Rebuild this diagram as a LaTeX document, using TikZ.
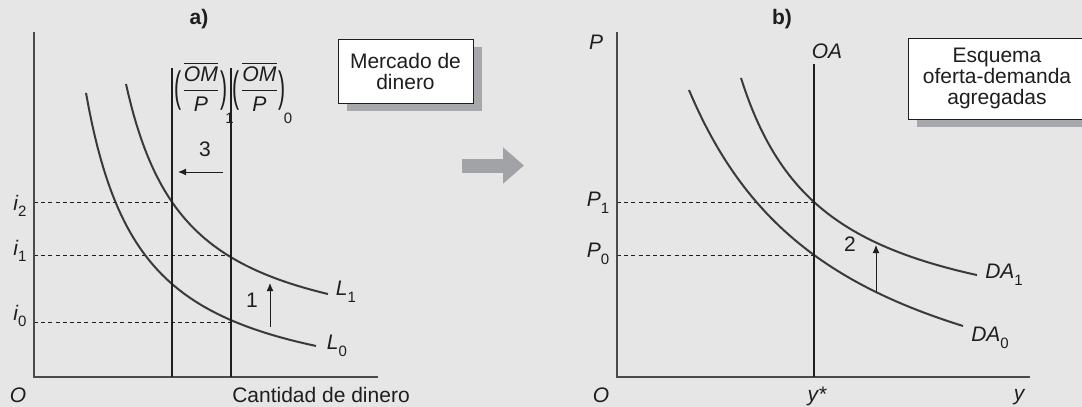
\documentclass[tikz,border=0pt]{standalone}
\usepackage{fontspec}
\setmainfont{Liberation Sans}
\usepackage{graphicx}
\usepackage{tikz}
\usetikzlibrary{arrows.meta, positioning, calc, shadows}
\definecolor{pagebg}{HTML}{E6E6E6}
\definecolor{axiscolor}{HTML}{4A4A4A}
\definecolor{curvecolor}{HTML}{3A3A3A}
\definecolor{inkcolor}{HTML}{1E1E1E}
\definecolor{shadowgray}{HTML}{A7A8AB}
\definecolor{flowgray}{HTML}{A2A3A6}
\newcommand{\lowsub}[1]{\raisebox{-3.3pt}{\upshape\fontsize{7.5}{7.5}\selectfont #1}}
\newcommand{\tallparen}[1]{\vcenter{\hbox{\scalebox{1}[2]{#1}}}}
\newcommand{\realbal}[1]{$\tallparen{(}%
    {\displaystyle\frac{\overline{\mbox{\itshape OM}}}{\mbox{\itshape P}}}%
    \tallparen{)}$\kern-1pt\raisebox{-13.5pt}{\fontsize{7.5}{7.5}\selectfont #1}}

\begin{document}
\begin{tikzpicture}[
    x=0.5pt, y=-0.5pt,
    font=\fontsize{10.5}{10.5}\selectfont,
    axis/.style={draw=axiscolor, line width=0.65pt},
    supply/.style={draw=inkcolor, line width=1.25pt},
    curve/.style={draw=curvecolor, line width=1pt},
    guide/.style={draw=inkcolor, line width=0.45pt, dash pattern=on 2pt off 1.6pt},
    movearrow/.style={draw=inkcolor, line width=0.5pt, -{Latex[length=4pt, width=3.5pt]}},
    lbl/.style={text=inkcolor, inner sep=0pt},
    var/.style={lbl, font=\fontsize{10.5}{10.5}\selectfont\itshape},
    panel/.style={lbl, font=\fontsize{10.5}{10.5}\selectfont\bfseries},
    tag/.style={
        rectangle, draw=inkcolor, line width=0.5pt, fill=white,
        text=inkcolor, align=center, inner sep=0pt,
        drop shadow={shadow xshift=4.5pt, shadow yshift=-4pt,
                     fill=shadowgray, opacity=1},
    },
]

\fill[pagebg] (0,0) rectangle (1082,407);
\useasboundingbox (0,0) rectangle (1082,407);
\clip (0,0) rectangle (1082,407);

% Panel a) -- money market
\coordinate (Oa) at (34,377);
\coordinate (ia) at (34,32);
\coordinate (xa) at (378,377);
\coordinate (m1top) at (172,68);
\coordinate (m0top) at (231,68);
\coordinate (e2) at (172,202);
\coordinate (e1) at (231,255);
\coordinate (e0) at (231,322);

\draw[guide] (Oa |- e2) -- (e2);
\draw[guide] (Oa |- e1) -- (e1);
\draw[guide] (Oa |- e0) -- (e0);

% L0 and L1
\draw[curve] plot[domain=86:316, samples=80]
    (\x, {406.8 - 173.57/((\x-30.7)/100)});
\draw[curve] plot[domain=126:328, samples=80]
    (\x, {356.7 - 164.43/((\x-65.7)/100)});

\draw[axis] (ia) -- (Oa) -- (xa);
\draw[supply] (m1top) -- (m1top |- Oa);
\draw[supply] (m0top) -- (m0top |- Oa);

\node[panel] (tita) at (199,19) {a)};
\node[var] (oa) at (18,395) {O};
\node[lbl] (xlabel) at (321,395) {Cantidad de dinero};
\node[var] (li2) at (20,206) {i\lowsub{2}};
\node[var] (li1) at (20,251) {i\lowsub{1}};
\node[var] (li0) at (20,316) {i\lowsub{0}};
\node[var] (ll1) at (346,292) {L\lowsub{1}};
\node[var] (ll0) at (337,346) {L\lowsub{0}};
\node[lbl, anchor=base west] (om1) at (174,96)
    {\fontsize{10.6}{10.6}\selectfont\realbal{1}};
\node[lbl, anchor=base west] (om0) at (232.5,96)
    {\fontsize{10.6}{10.6}\selectfont\realbal{0}};

\coordinate (s3a) at (223,172);
\coordinate (s3b) at (178,172);
\draw[movearrow] (s3a) -- (s3b);
\node[lbl] (n3) at (205,149) {3};
\coordinate (s1a) at (270,327);
\coordinate (s1b) at (270,283);
\draw[movearrow] (s1a) -- (s1b);
\node[lbl] (n1) at (252,300) {1};

\node[tag, minimum width=67.5pt, minimum height=32pt] (mkt) at (405.5,71)
    {Mercado de\\dinero};

% link between panels
\coordinate (flowL) at (462,165.5);
\coordinate (flowR) at (524,165.5);
\draw[flowgray, line width=7pt, -{Triangle[length=10.5pt, width=17.5pt]}]
    (flowL) -- (flowR);

% Panel b) -- aggregate supply and demand
\coordinate (Ob) at (617,377);
\coordinate (pb) at (617,32);
\coordinate (yb) at (1030,377);
\coordinate (oatop) at (814,64);
\coordinate (f1) at (814,202);
\coordinate (f0) at (814,255);

\draw[guide] (Ob |- f1) -- (f1);
\draw[guide] (Ob |- f0) -- (f0);

% DA0 and DA1
\draw[curve] plot[domain=689:963, samples=80]
    (\x, {459.3 - 571.7/((\x-534.2)/100)});
\draw[curve] plot[domain=741:977, samples=80]
    (\x, {345.7 - 226.48/((\x-656.4)/100)});

\draw[axis] (pb) -- (Ob) -- (yb);
\draw[supply] (oatop) -- (oatop |- Ob);

\node[panel] (titb) at (782,19) {b)};
\node[var] (ob) at (601,395) {O};
\node[var] (lp) at (596,42) {P};
\node[var] (lp1) at (598,203) {P\lowsub{1}};
\node[var] (lp0) at (598,254) {P\lowsub{0}};
\node[var] (loa) at (827,51) {OA};
\node[var] (lys) at (817,396) {y*};
\node[var] (ly) at (1019,397) {y};
\node[var] (lda1) at (1004,275) {DA\lowsub{1}};
\node[var] (lda0) at (990,338) {DA\lowsub{0}};

\coordinate (s2a) at (876,292);
\coordinate (s2b) at (876,245);
\draw[movearrow] (s2a) -- (s2b);
\node[lbl] (n2) at (850,244) {2};

\node[tag, minimum width=89pt, minimum height=40.5pt] (adas) at (997,78.5)
    {Esquema\\oferta-demanda\\agregadas};

\end{tikzpicture}
\end{document}
